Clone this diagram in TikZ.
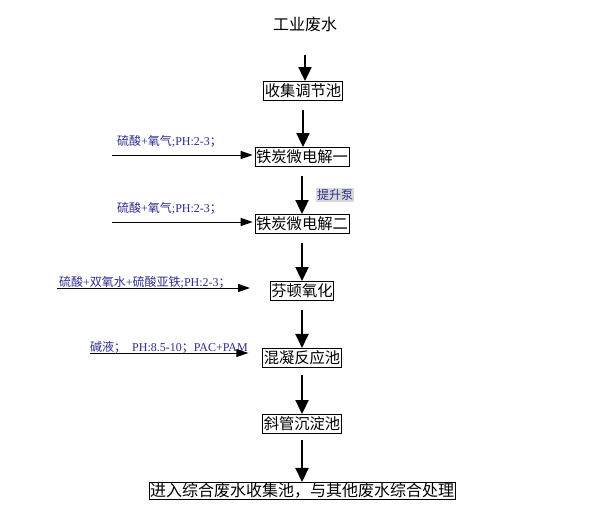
\documentclass[tikz,border=0pt]{standalone}
\usepackage{fontspec}
\setmainfont{Liberation Serif}
\newfontfamily\cjk{Noto Sans CJK SC}
\usetikzlibrary{arrows.meta, positioning}
\definecolor{labelblue}{RGB}{45,45,145}
\tikzset{
  stage/.style={draw, thick, rectangle, inner xsep=1pt, inner ysep=2.5pt, font=\cjk\fontsize{15.3}{18}\selectfont},
  feed/.style={anchor=base west, inner sep=0pt, text=labelblue, font=\fontsize{12}{14}\selectfont},
  down/.style={line width=2.2pt, -{Triangle[width=13pt,length=14pt]}},
  side/.style={line width=1pt, -{Triangle[width=8pt,length=12pt]}}
}
\begin{document}
\begin{tikzpicture}[x=1pt, y=-1pt]
  \useasboundingbox (0,0) rectangle (596,514);
  \node[font=\cjk\fontsize{16}{18}\selectfont, inner sep=1pt] (src) at (305,24) {工业废水};
  \node[stage] (tank) at (303,91) {收集调节池};
  \node[stage] (fe1) at (302,157) {铁炭微电解一};
  \node[stage] (fe2) at (302,224) {铁炭微电解二};
  \node[stage] (fenton) at (302,291) {芬顿氧化};
  \node[stage] (coag) at (302,358) {混凝反应池};
  \node[stage] (settle) at (302,424) {斜管沉淀池};
  \node[stage, inner ysep=1pt, font=\cjk\fontsize{16}{18}\selectfont] (out) at (302,491) {进入综合废水收集池，与其他废水综合处理};

  % main flow
  \draw[down] (src.south) ++(0,22) coordinate (s0) -- (s0 |- tank.north);
  \draw[down] (tank.south) ++(0,9) coordinate (s1) -- (s1 |- fe1.north);
  \draw[down] (fe1.south) ++(0,9) coordinate (s2) -- (s2 |- fe2.north)
    node[midway, right=13pt, inner sep=1pt, fill=gray!30, text=labelblue, font=\cjk\fontsize{12}{14}\selectfont] (pump) {提升泵};
  \draw[down] (fe2.south) ++(0,9) coordinate (s3) -- (s3 |- fenton.north);
  \draw[down] (fenton.south) ++(0,9) coordinate (s4) -- (s4 |- coag.north);
  \draw[down] (coag.south) ++(0,7) coordinate (s5) -- (s5 |- settle.north);
  \draw[down] (settle.south) ++(0,6) coordinate (s6) -- (s6 |- out.north);

  % dosing lines
  \coordinate (d1) at (112,155);
  \coordinate (d2) at (112,222);
  \coordinate (d3) at (57,288);
  \coordinate (d4) at (90,353);
  \node[feed] (l1) at (117,145) {{\cjk 硫酸}+{\cjk 氧气};PH:2-3{\cjk ；}};
  \node[feed] (l2) at (117,212) {{\cjk 硫酸}+{\cjk 氧气};PH:2-3{\cjk ；}};
  \node[feed] (l3) at (59,286) {{\cjk 硫酸}+{\cjk 双氧水}+{\cjk 硫酸亚铁};PH:2-3{\cjk ；}};
  \node[feed] (l4) at (90,351) {{\cjk 碱液；}\ \ PH:8.5-10{\cjk ；}PAC+PAM};
  \draw[side] (d1) -- ([xshift=-2pt]d1 -| fe1.west);
  \draw[side] (d2) -- ([xshift=-2pt]d2 -| fe2.west);
  \draw[side] (d3) -- ([xshift=-20pt]d3 -| fenton.west);
  \draw[side] (d4) -- ([xshift=-14pt]d4 -| coag.west);
\end{tikzpicture}
\end{document}
